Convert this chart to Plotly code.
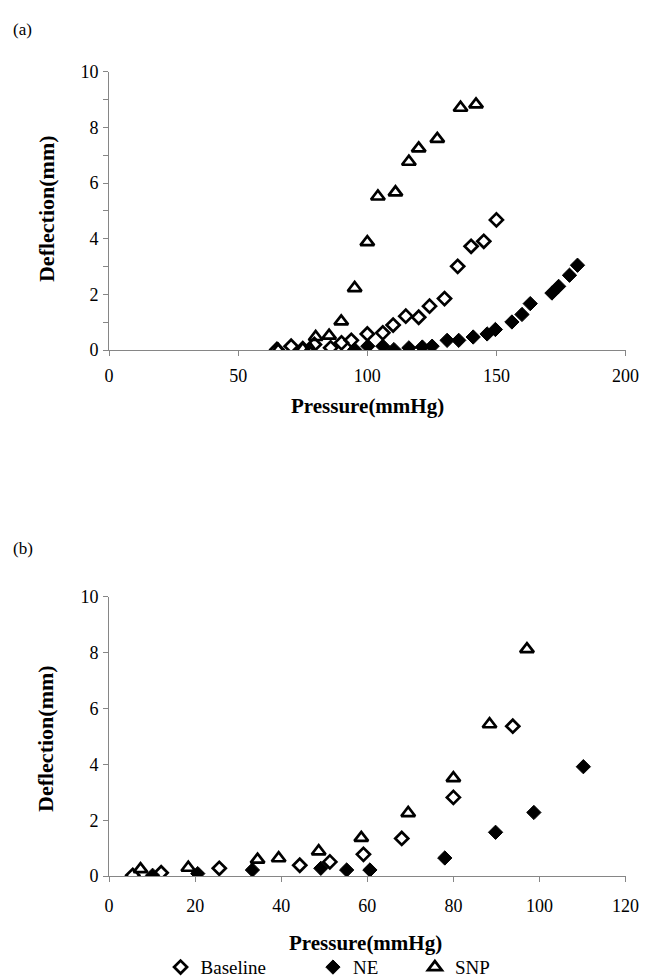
import plotly.graph_objects as go

# ---- Panel (a) data ----
a_base_x = [65, 70.5, 75, 79.5, 85.8, 90, 93.8, 100, 106, 110, 114.9, 119.9, 124.1, 129.9, 135, 140.2, 145.1, 150]
a_base_y = [0.02, 0.14, 0.05, 0.2, 0.08, 0.26, 0.35, 0.58, 0.62, 0.90, 1.22, 1.18, 1.58, 1.85, 3.01, 3.73, 3.91, 4.68]

a_ne_x = [95.1, 100.2, 106, 110.3, 116.1, 121.3, 125.1, 130.9, 135.4, 141, 146.4, 149.6, 156, 159.9, 163.1, 171.5, 174.1, 178.3, 181.4]
a_ne_y = [0.02, 0.14, 0.14, 0.02, 0.08, 0.11, 0.14, 0.35, 0.35, 0.47, 0.58, 0.74, 1.01, 1.28, 1.67, 2.05, 2.29, 2.69, 3.05]

a_snp_x = [65.5, 75, 78, 80, 85.2, 89.9, 95.1, 100, 104.1, 110.9, 116.1, 119.9, 127.1, 136.1, 142.1]
a_snp_y = [0.0, 0.04, 0.02, 0.47, 0.52, 1.03, 2.23, 3.88, 5.52, 5.67, 6.77, 7.25, 7.59, 8.71, 8.83]

# ---- Panel (b) data ----
b_base_x = [5.5, 12.1, 25.6, 44.3, 51.3, 59.1, 68, 80, 93.8]
b_base_y = [0.03, 0.12, 0.28, 0.39, 0.51, 0.78, 1.35, 2.82, 5.37]

b_ne_x = [10.1, 20.6, 33.3, 49.2, 55.2, 60.6, 78, 89.8, 98.7, 110.2]
b_ne_y = [0.03, 0.09, 0.22, 0.28, 0.22, 0.22, 0.65, 1.57, 2.28, 3.92]

b_snp_x = [7.3, 18.4, 34.5, 39.4, 48.7, 58.6, 69.5, 80, 88.4, 97.1]
b_snp_y = [0.25, 0.30, 0.59, 0.64, 0.89, 1.37, 2.26, 3.51, 5.44, 8.13]

series_names = ["Baseline", "NE", "SNP"]

W, H = 649, 980
FONT = "Liberation Serif"
GREY = "#868686"

m_base = dict(symbol="diamond-open", size=10, color="black", line=dict(width=2.7, color="black"))
m_ne = dict(symbol="diamond", size=11, color="black", line=dict(width=1, color="black"))
m_snp = dict(symbol="triangle-up-open", size=12, color="black", line=dict(width=2.7, color="black"))

fig = go.Figure()
# panel (a)
fig.add_trace(go.Scatter(x=a_base_x, y=a_base_y, mode="markers", marker=m_base, showlegend=False, xaxis="x", yaxis="y"))
fig.add_trace(go.Scatter(x=a_ne_x, y=a_ne_y, mode="markers", marker=m_ne, showlegend=False, xaxis="x", yaxis="y"))
fig.add_trace(go.Scatter(x=a_snp_x, y=a_snp_y, mode="markers", marker=m_snp, showlegend=False, xaxis="x", yaxis="y"))
# panel (b)
fig.add_trace(go.Scatter(x=b_base_x, y=b_base_y, mode="markers", marker=m_base, name=series_names[0], legend="legend", xaxis="x2", yaxis="y2"))
fig.add_trace(go.Scatter(x=b_ne_x, y=b_ne_y, mode="markers", marker=m_ne, name=series_names[1], legend="legend2", xaxis="x2", yaxis="y2"))
fig.add_trace(go.Scatter(x=b_snp_x, y=b_snp_y, mode="markers", marker=m_snp, name=series_names[2], legend="legend3", xaxis="x2", yaxis="y2"))


def px_x(p):
    return p / W


def px_y(p):
    return 1 - p / H


xdom = [px_x(99), px_x(631)]
ax_common = dict(showline=True, linecolor=GREY, linewidth=1, showgrid=False, zeroline=False,
                 ticks="outside", tickcolor=GREY, ticklen=5,
                 tickfont=dict(family=FONT, size=18, color="black"))

fig.update_layout(
    width=W, height=H,
    margin=dict(l=0, r=0, t=0, b=0),
    paper_bgcolor="white", plot_bgcolor="white",
    font=dict(family=FONT, color="black"),
    xaxis=dict(domain=xdom, anchor="y", range=[0, 200], dtick=50, ticklabelstandoff=4, **ax_common),
    yaxis=dict(domain=[px_y(339), px_y(55)], anchor="x", range=[0, 10], dtick=2, ticklabelstandoff=1,
               minor=dict(dtick=1, ticks="outside", ticklen=5, tickcolor=GREY), **ax_common),
    xaxis2=dict(domain=xdom, anchor="y2", range=[0, 120], dtick=20, ticklabelstandoff=8, **ax_common),
    yaxis2=dict(domain=[px_y(876), px_y(591)], anchor="x2", range=[0, 10], dtick=2, ticklabelstandoff=1,
                **ax_common),
)

leg_common = dict(orientation="h", yanchor="middle", y=px_y(969), xanchor="left",
                  font=dict(family=FONT, size=19, color="black"), bgcolor="rgba(0,0,0,0)",
                  itemwidth=30)
fig.update_layout(
    legend=dict(x=px_x(152), **leg_common),
    legend2=dict(x=px_x(309), **leg_common),
    legend3=dict(x=px_x(414), **leg_common),
)

annots = [
    dict(text="(a)", x=px_x(10), y=1.0, yanchor="top", font=dict(size=17)),
    dict(text="(b)", x=px_x(10), y=px_y(542), font=dict(size=17)),
    dict(text="<b>Deflection(mm)</b>", x=px_x(34), y=px_y(195), textangle=-90, font=dict(size=22)),
    dict(text="<b>Deflection(mm)</b>", x=px_x(34), y=px_y(736), textangle=-90, font=dict(size=22)),
    dict(text="<b>Pressure(mmHg)</b>", x=px_x(365), y=px_y(396), font=dict(size=21)),
    dict(text="<b>Pressure(mmHg)</b>", x=px_x(363), y=px_y(944), font=dict(size=21)),
]
for a in annots:
    a.setdefault("yanchor", "middle")
    a.update(xref="paper", yref="paper", showarrow=False, xanchor="center")
    a["font"].update(family=FONT, color="black")
    fig.add_annotation(**a)

fig.write_html("out.html")
